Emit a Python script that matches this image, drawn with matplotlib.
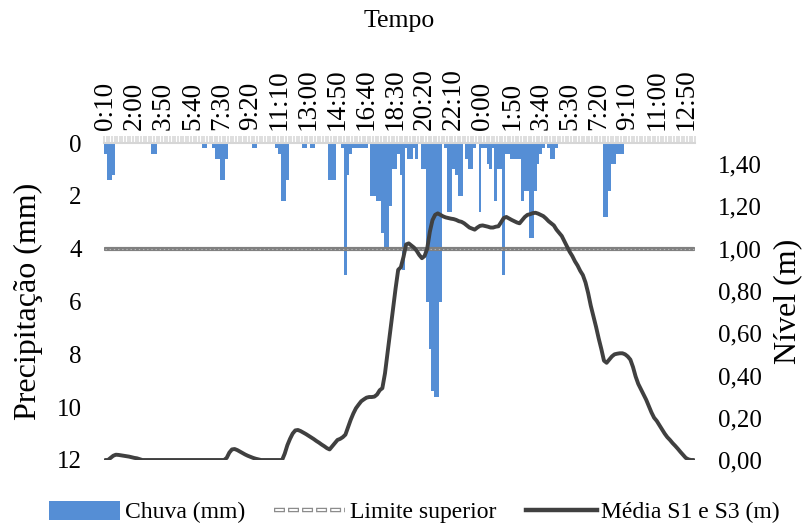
import matplotlib
matplotlib.use('Agg')
import matplotlib.pyplot as plt
from matplotlib.patches import Patch
from matplotlib.lines import Line2D
from matplotlib.ticker import FuncFormatter

plt.rcParams['font.family'] = ['Liberation Serif', 'DejaVu Serif']
plt.rcParams['lines.scale_dashes'] = False

# ---------------- data ----------------
tick_labels = ['0:10', '2:00', '3:50', '5:40', '7:30', '9:20', '11:10', '13:00',
               '14:50', '16:40', '18:30', '20:20', '22:10', '0:00', '1:50', '3:40',
               '5:30', '7:20', '9:10', '11:00', '12:50']
tick_step = 11  # categories (10 min) between labels

# rainfall per 10-min interval (mm)
rain = [
    0.4, 1.4, 1.4, 1.2, 0, 0, 0, 0, 0, 0,            # 0
    0, 0, 0, 0, 0, 0, 0, 0, 0.4, 0.4,                # 10
    0, 0, 0, 0, 0, 0, 0, 0, 0, 0,                    # 20
    0, 0, 0, 0, 0, 0, 0, 0.2, 0.2, 0,                # 30
    0, 0.2, 0.6, 0.6, 1.4, 1.4, 0.6, 0, 0, 0,        # 40
    0, 0, 0, 0, 0, 0, 0.2, 0.2, 0, 0,                # 50
    0, 0, 0, 0, 0, 0.2, 0.4, 2.2, 2.2, 1.4,          # 60
    0, 0, 0, 0, 0, 0.2, 0.2, 0, 0.2, 0.2,            # 70
    0, 0, 0, 0, 0, 1.4, 1.4, 1.4, 0, 0,              # 80
    0.2, 5.0, 1.2, 0.4, 0.2, 0.2, 0.2, 0.2, 0.2, 0.2,  # 90
    0, 2.0, 2.0, 2.2, 2.2, 3.4, 4.0, 4.0, 2.4, 1.0,  # 100
    1.0, 0.4, 1.2, 4.8, 0.2, 0.6, 0.6, 0.2, 0.6, 0,  # 110
    1.0, 1.0, 6.0, 7.8, 9.4, 9.6, 9.6, 6.0, 0, 0.2,  # 120
    2.6, 2.6, 1.0, 1.2, 2.0, 2.0, 0, 0.6, 1.0, 1.0,  # 130
    0.2, 0, 2.6, 0.2, 0.2, 0.8, 1.0, 0.2, 2.2, 1.0,  # 140
    1.0, 5.0, 0.4, 0.4, 0.6, 0.6, 0.6, 0.6, 2.2, 1.8,  # 150
    1.8, 3.6, 3.6, 1.8, 0.8, 0.4, 0.2, 0, 0.2, 0.6,  # 160
    0.6, 0.2, 0, 0, 0, 0, 0, 0, 0, 0,                # 170
    0, 0, 0, 0, 0, 0, 0, 0, 0, 2.8,                  # 180
    2.8, 1.8, 0.8, 0.8, 0.4, 0.4, 0.4, 0, 0, 0,      # 190
    0, 0, 0, 0, 0, 0, 0, 0, 0, 0,                    # 200
    0, 0, 0, 0, 0, 0, 0, 0, 0, 0,                    # 210
    0, 0, 0, 0,                                      # 220
]

# mean water level S1 and S3 (m)
level = [
    0, 0, 0.01, 0.02, 0.025, 0.024, 0.022, 0.02, 0.018, 0.016,               # 0
    0.013, 0.01, 0.008, 0.004, 0, 0, 0, 0, 0, 0,                             # 10
    0, 0, 0, 0, 0, 0, 0, 0, 0, 0,                                            # 20
    0, 0, 0, 0, 0, 0, 0, 0, 0, 0,                                            # 30
    0, 0, 0, 0, 0, 0, 0.01, 0.035, 0.05, 0.052,                              # 40
    0.047, 0.04, 0.033, 0.026, 0.02, 0.015, 0.01, 0.006, 0.003, 0,           # 50
    0, 0, 0, 0, 0, 0, 0, 0, 0.03, 0.07,                                      # 60
    0.10, 0.125, 0.14, 0.142, 0.137, 0.13, 0.123, 0.115, 0.107, 0.099,       # 70
    0.09, 0.082, 0.073, 0.065, 0.056, 0.05, 0.065, 0.08, 0.095, 0.10,        # 80
    0.108, 0.12, 0.155, 0.19, 0.22, 0.245, 0.262, 0.278, 0.287, 0.295,       # 90
    0.298, 0.298, 0.30, 0.31, 0.33, 0.34, 0.41, 0.51, 0.61, 0.71,            # 100
    0.81, 0.90, 0.912, 0.96, 1.02, 1.025, 1.015, 1.005, 0.99, 0.97,          # 110
    0.955, 0.965, 1.0, 1.08, 1.135, 1.16, 1.167, 1.16, 1.153, 1.148,         # 120
    1.145, 1.142, 1.14, 1.136, 1.13, 1.127, 1.12, 1.11, 1.10, 1.095,         # 130
    1.09, 1.10, 1.108, 1.11, 1.107, 1.104, 1.10, 1.10, 1.104, 1.106,         # 140
    1.125, 1.145, 1.15, 1.143, 1.136, 1.13, 1.124, 1.12, 1.135, 1.15,        # 150
    1.16, 1.163, 1.168, 1.17, 1.166, 1.16, 1.154, 1.143, 1.13, 1.12,         # 160
    1.11, 1.09, 1.075, 1.06, 1.035, 1.01, 0.985, 0.965, 0.94, 0.92,          # 170
    0.895, 0.875, 0.84, 0.79, 0.73, 0.68, 0.63, 0.575, 0.525, 0.47,          # 180
    0.46, 0.475, 0.49, 0.50, 0.503, 0.505, 0.505, 0.50, 0.49, 0.475,         # 190
    0.44, 0.395, 0.36, 0.335, 0.31, 0.285, 0.255, 0.225, 0.20, 0.185,        # 200
    0.165, 0.145, 0.125, 0.108, 0.095, 0.08, 0.067, 0.053, 0.038, 0.024,     # 210
    0.01, 0.003, 0, 0,                                                       # 220
]

limit_value = 1.0  # Limite superior (m)

# ---------------- figure ----------------
W, H = 809, 529
fig = plt.figure(figsize=(W / 100, H / 100), dpi=100)
ax = fig.add_axes([104 / W, 1 - 460 / H, 591 / W, 317 / H])

FS = 18          # numeric tick labels
FS_X = 19.5      # rotated time labels
FS_T = 18.5      # "Tempo"
FS_AX = 23       # vertical axis titles
FS_LEG = 17
BLUE = '#558ed5'
n = len(rain)
xs = list(range(n))

ax.bar(xs, rain, width=1.0, color=BLUE, linewidth=0, zorder=2)
ax.set_xlim(-0.5, n - 0.5)
ax.set_ylim(12, 0)
ax.set_yticks([0, 2, 4, 6, 8, 10, 12])
ax.tick_params(axis='y', length=0, pad=16, labelsize=FS)
ax.set_ylabel('Precipitação (mm)', fontsize=FS_AX, labelpad=10)

# top category axis
ax.xaxis.tick_top()
ax.xaxis.set_label_position('top')
pos = [i * tick_step for i in range(len(tick_labels))]
ax.set_xticks(pos)
ax.set_xticklabels(tick_labels, rotation=90, fontsize=FS_X)
ax.set_xticks([i - 0.5 for i in range(n + 1)], minor=True)
ax.tick_params(axis='x', which='major', length=0, pad=9)
ax.tick_params(axis='x', which='minor', top=True, bottom=False, length=5,
               width=1.1, color='#d6d6d6', direction='out')
ax.set_xlabel('Tempo', fontsize=FS_T, labelpad=30)

for s in ['left', 'right', 'bottom']:
    ax.spines[s].set_visible(False)
ax.spines['top'].set_color('#d6d6d6')
ax.spines['top'].set_linewidth(1.5)

# secondary axis: water level
ax2 = ax.twinx()
ax2.set_ylim(0, 1.5)
ax2.set_yticks([0, 0.2, 0.4, 0.6, 0.8, 1.0, 1.2, 1.4])
ax2.yaxis.set_major_formatter(FuncFormatter(lambda v, p: f'{v:.2f}'.replace('.', ',')))
ax2.tick_params(axis='y', length=0, pad=16.5, labelsize=FS)
ax2.set_ylabel('Nível (m)', fontsize=FS_AX, labelpad=8)
for s in ax2.spines.values():
    s.set_visible(False)

limit_series = [limit_value for _ in xs]
ax2.plot(xs, limit_series, color='#808080', lw=3.0, solid_capstyle='round', zorder=3)
ax2.plot(xs, limit_series, color='#b4b4b4', lw=0.8, ls=(0, (1.0, 2.0)), zorder=3)
ax2.plot(xs, level, color='#404040', lw=2.8, solid_joinstyle='round',
         solid_capstyle='round', zorder=4)

# ---------------- legend ----------------
h_rain = Patch(facecolor=BLUE, edgecolor='none')
h_lim = (Line2D([], [], color='#8c8c8c', lw=3.2, ls=(0, (7.9, 2.2))),
         Line2D([], [], color='white', lw=1.4, ls=(9.2, (6.1, 4.0))))
h_lvl = Line2D([], [], color='#404040', lw=3.2)
fig.legend([h_rain, h_lim, h_lvl],
           ['Chuva (mm)', 'Limite superior', 'Média S1 e S3 (m)'],
           loc='center', bbox_to_anchor=(414.5 / W, 1 - 512 / H), ncol=3, frameon=False,
           fontsize=FS_LEG, handlelength=3.0, handleheight=0.9, handletextpad=0.2,
           columnspacing=1.25)

fig.savefig('out.png', dpi=100)
